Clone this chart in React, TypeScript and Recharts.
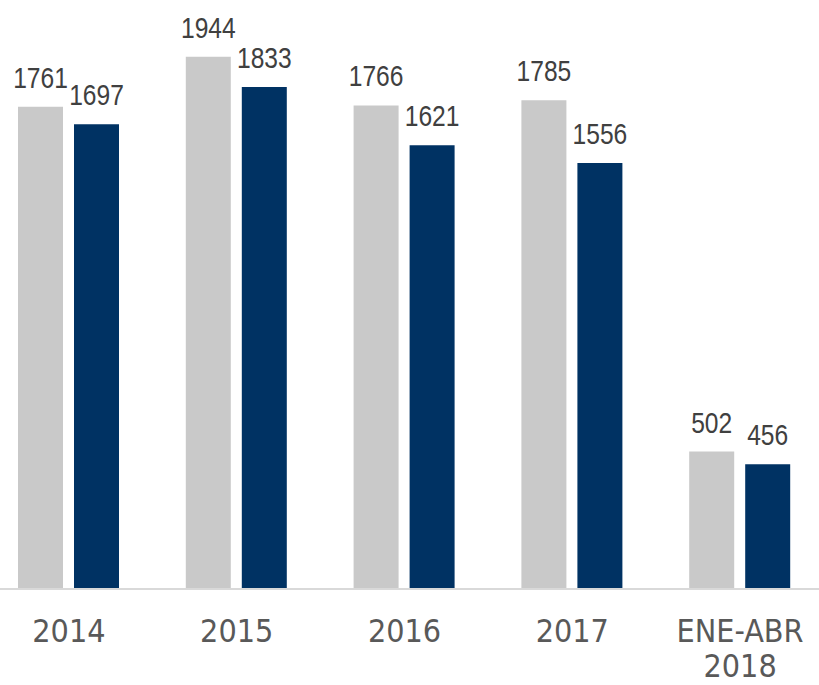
import React from "react";
import { BarChart, Bar, XAxis, YAxis, LabelList } from "recharts";

const categories = ["2014", "2015", "2016", "2017", "ENE-ABR\n2018"];
const seriesA = [1761, 1944, 1766, 1785, 502];
const seriesB = [1697, 1833, 1621, 1556, 456];

const data = categories.map((c, i) => ({ name: c, a: seriesA[i], b: seriesB[i] }));

const LABEL_FONT = "'Liberation Sans', Arial, sans-serif";
const TICK_FONT = "'DejaVu Sans Condensed', 'DejaVu Sans', Verdana, sans-serif";

const Tick = (props: any) => {
  const { x, y, payload } = props;
  const lines = String(payload.value).split("\n");
  return (
    <g>
      {lines.map((l, i) => (
        <text
          key={i}
          x={x}
          y={y + 24 + i * 35}
          textAnchor="middle"
          fill="#595959"
          fontSize={32}
          fontFamily={TICK_FONT}
          style={{ fontStretch: "condensed" }}
        >
          {l}
        </text>
      ))}
    </g>
  );
};

const ValueLabel = (props: any) => {
  const { x, y, width, value } = props;
  const cx = Number(x) + Number(width) / 2;
  const by = Number(y) - 19;
  return (
    <text
      transform={`translate(${cx}, ${by}) scale(0.82, 1)`}
      x={0}
      y={0}
      textAnchor="middle"
      fill="#404040"
      fontSize={30}
      fontFamily={LABEL_FONT}
    >
      {value}
    </text>
  );
};

export default function App() {
  return (
    <div
      style={{
        position: "fixed",
        left: 0,
        top: 0,
        width: 819,
        height: 685,
        overflow: "hidden",
        background: "#ffffff",
      }}
    >
      <div style={{ position: "absolute", left: -14.7, top: 0 }}>
        <BarChart
          width={839}
          height={685}
          data={data}
          margin={{ top: 41.4, right: 0, bottom: 36, left: 0 }}
          barGap={11}
        >
          <YAxis hide domain={[0, 2000]} />
          <XAxis
            dataKey="name"
            height={60}
            tickLine={false}
            axisLine={{ stroke: "#d9d9d9", strokeWidth: 2 }}
            tickMargin={23}
            interval={0}
            tick={<Tick />}
          />
          <Bar dataKey="a" fill="#c9c9c9" barSize={45} isAnimationActive={false}>
            <LabelList dataKey="a" content={<ValueLabel />} />
          </Bar>
          <Bar dataKey="b" fill="#003263" barSize={45} isAnimationActive={false}>
            <LabelList dataKey="b" content={<ValueLabel />} />
          </Bar>
        </BarChart>
      </div>
    </div>
  );
}
